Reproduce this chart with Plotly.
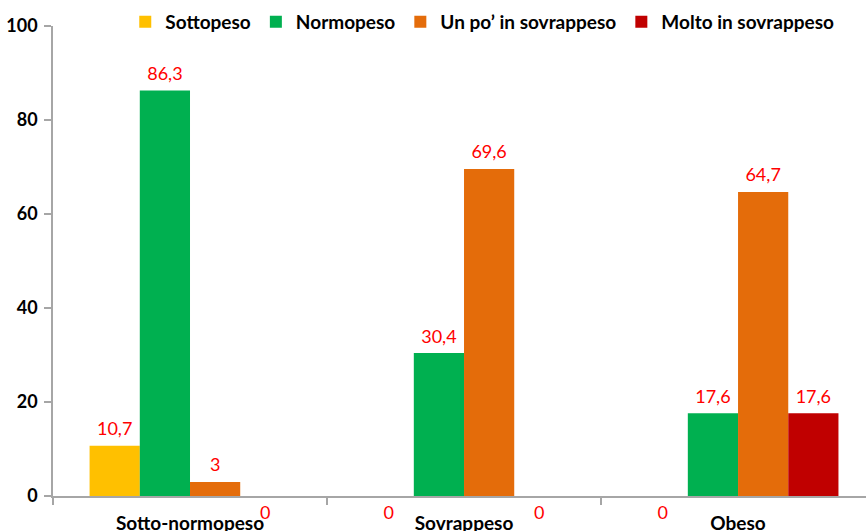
import plotly.graph_objects as go

categories = ["Sotto-normopeso", "Sovrappeso", "Obeso"]
series_names = ["Sottopeso", "Normopeso", "Un po\u2019 in sovrappeso", "Molto in sovrappeso"]
sottopeso = [10.7, 0, 0]
normopeso = [86.3, 30.4, 17.6]
un_po_sovrappeso = [3, 69.6, 64.7]
molto_sovrappeso = [0, 0, 17.6]
y_ticks = [0, 20, 40, 60, 80, 100]

series_values = [sottopeso, normopeso, un_po_sovrappeso, molto_sovrappeso]
colors = ["#FFC000", "#00B050", "#E46C0A", "#C00000"]

FONT = "Lato, 'Open Sans', Arial, sans-serif"

def fmt(v):
    return ("%g" % v).replace(".", ",")

fig = go.Figure()
for i, (name, vals, col) in enumerate(zip(series_names, series_values, colors)):
    fig.add_trace(go.Bar(
        x=categories, y=vals, name=name, marker=dict(color=col, line=dict(width=0)),
        offsetgroup=str(i), hoverinfo="skip",
    ))
for i, (name, vals) in enumerate(zip(series_names, series_values)):
    fig.add_trace(go.Scatter(
        x=categories, y=vals, mode="markers+text",
        text=[fmt(v) for v in vals],
        textposition=["bottom center" if v == 0 else "top center" for v in vals],
        textfont=dict(family=FONT, size=18, color="#FF0000"),
        marker=dict(size=[14 if v == 0 else 8 for v in vals], opacity=0),
        offsetgroup=str(i), showlegend=False, cliponaxis=False, hoverinfo="skip",
    ))

fig.update_layout(
    width=866, height=531,
    margin=dict(l=53, r=0, t=26, b=35, autoexpand=False),
    barmode="group", scattermode="group", bargap=0.267, bargroupgap=0,
    paper_bgcolor="white", plot_bgcolor="white",
    font=dict(family=FONT, color="black"),
    showlegend=True,
    legend=dict(
        orientation="h", x=0.528, xanchor="center",
        yref="container", y=1 - 22 / 531, yanchor="middle",
        font=dict(family=FONT, size=19, color="black", weight="bold"),
        itemwidth=30, traceorder="normal", bgcolor="rgba(0,0,0,0)",
    ),
    xaxis=dict(
        range=[-0.5, 2.467], showline=True, linecolor="#A6A6A6", linewidth=1.5,
        ticks="outside", tickson="boundaries", ticklen=7, tickcolor="#A6A6A6", tickwidth=1.5,
        tickfont=dict(family=FONT, size=19, color="black", weight="bold"),
        ticklabelstandoff=9, automargin=False,
        showgrid=False, zeroline=False, fixedrange=True,
    ),
    yaxis=dict(
        range=[0, 100], tickvals=y_ticks, showline=True, linecolor="#A6A6A6", linewidth=1.5,
        ticks="outside", ticklen=7, tickcolor="#A6A6A6", tickwidth=1.5,
        tickfont=dict(family=FONT, size=18, color="black", weight="bold"),
        ticklabelstandoff=3, automargin=False,
        showgrid=False, zeroline=False, fixedrange=True,
    ),
)

fig.write_html(
    "out.html",
    config={"displayModeBar": False},
    post_script="document.body.style.margin='0';document.body.style.overflow='hidden';",
)
